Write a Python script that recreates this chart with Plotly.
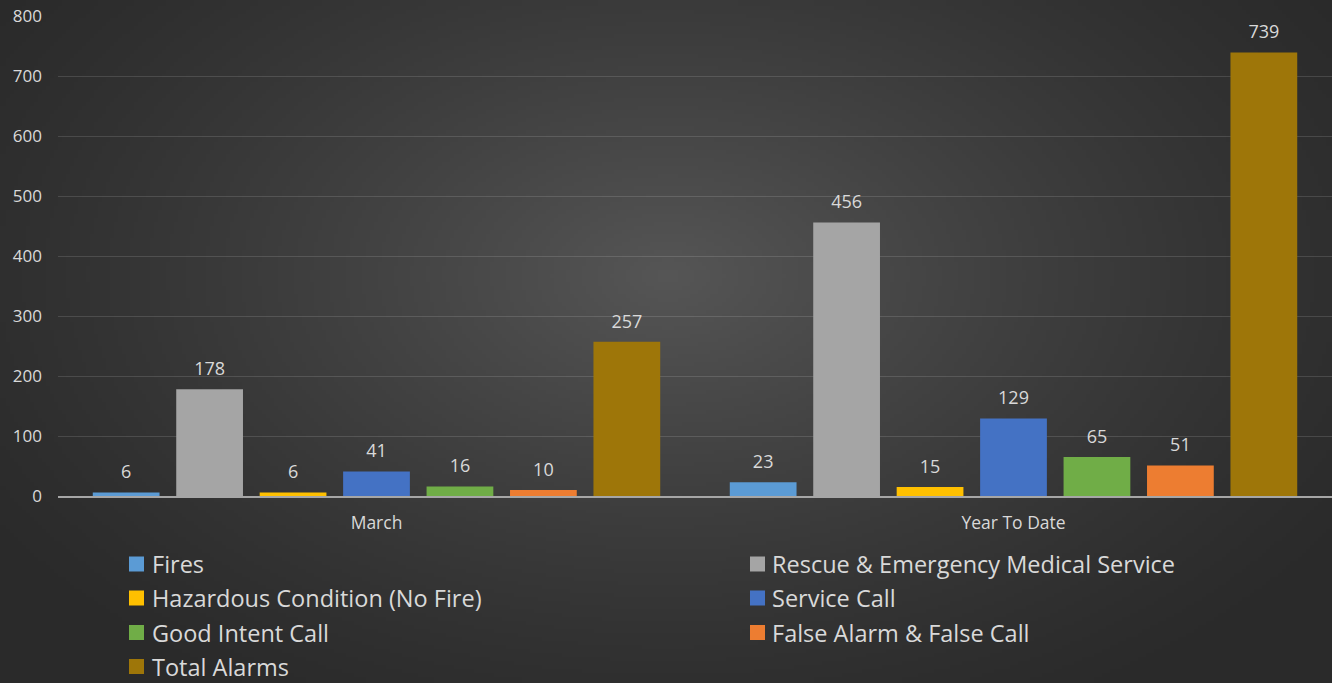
import base64, struct, zlib
import numpy as np
import plotly.graph_objects as go

categories = ["March", "Year To Date"]
series_names = ["Fires", "Rescue & Emergency Medical Service", "Hazardous Condition (No Fire)",
                "Service Call", "Good Intent Call", "False Alarm & False Call", "Total Alarms"]
fires = [6, 23]
rescue_ems = [178, 456]
hazardous = [6, 15]
service_call = [41, 129]
good_intent = [16, 65]
false_alarm = [10, 51]
total_alarms = [257, 739]
series_values = [fires, rescue_ems, hazardous, service_call, good_intent, false_alarm, total_alarms]
series_colors = ["#5B9BD5", "#A5A5A5", "#FFC000", "#4472C4", "#70AD47", "#ED7D31", "#9E7609"]
y_ticks = [0, 100, 200, 300, 400, 500, 600, 700, 800]

FONT = "Open Sans"
TEXT_COLOR = "#D9D9D9"
LABEL_PAD = 10.5  # gap (in axis units) between bar top and its value label

W, H = 1332, 683
ML, MR, MT, MB = 58, 0, 16, 187
PW, PH = W - ML - MR, H - MT - MB


def px_x(px):
    return (px - ML) / PW


def px_y(py):
    return (H - MB - py) / PH


def gradient_png(w, h):
    yy, xx = np.mgrid[0:h, 0:w].astype(float)
    cx, cy = 0.50 * w, 0.40 * h
    r = np.sqrt(((xx - cx) / (0.62 * w)) ** 2 + ((yy - cy) / (0.75 * h)) ** 2)
    v = 42 + 44 * np.clip(1 - r, 0, 1) ** 1.3
    img = np.clip(v, 0, 255).astype(np.uint8)
    raw = b"".join(b"\x00" + np.repeat(row[:, None], 3, axis=1).tobytes() for row in img)

    def chunk(t, d):
        c = struct.pack(">I", len(d)) + t + d
        return c + struct.pack(">I", zlib.crc32(t + d) & 0xFFFFFFFF)

    png = b"\x89PNG\r\n\x1a\n" + chunk(b"IHDR", struct.pack(">IIBBBBB", w, h, 8, 2, 0, 0, 0))
    png += chunk(b"IDAT", zlib.compress(raw, 9)) + chunk(b"IEND", b"")
    return "data:image/png;base64," + base64.b64encode(png).decode()


fig = go.Figure()
for i, (name, vals, col) in enumerate(zip(series_names, series_values, series_colors)):
    fig.add_trace(go.Bar(
        x=categories, y=vals, name=name, offsetgroup=str(i),
        marker=dict(color=col, line=dict(width=0)), showlegend=False,
    ))
for i, vals in enumerate(series_values):
    # transparent spacer bars sitting on top of each bar, carrying the value labels
    fig.add_trace(go.Bar(
        x=categories, y=[LABEL_PAD] * len(vals), base=vals, offsetgroup=str(i),
        marker=dict(color="rgba(0,0,0,0)", line=dict(width=0)),
        text=vals, textposition="outside", cliponaxis=False,
        textfont=dict(family=FONT, size=18, color=TEXT_COLOR),
        showlegend=False, hoverinfo="skip",
    ))

# legend (two columns, Excel style)
shapes, annotations = [], []
col_sq_x = [129, 750]
col_tx_x = [152, 772]
row_y = [564, 598, 632.5, 666.5]
SQ = 15
for k, (name, col) in enumerate(zip(series_names, series_colors)):
    c, r = k % 2, k // 2
    cy = row_y[r]
    shapes.append(dict(
        type="rect", xref="paper", yref="paper",
        x0=px_x(col_sq_x[c]), x1=px_x(col_sq_x[c] + SQ),
        y0=px_y(cy + SQ / 2), y1=px_y(cy - SQ / 2),
        fillcolor=col, line=dict(width=0), layer="above",
    ))
    annotations.append(dict(
        text=name, xref="paper", yref="paper", x=px_x(col_tx_x[c]), y=px_y(cy),
        xanchor="left", yanchor="middle", showarrow=False,
        borderpad=0, borderwidth=0,
        font=dict(family=FONT, size=23.5, color=TEXT_COLOR),
    ))

fig.update_layout(
    width=W, height=H,
    margin=dict(l=ML, r=MR, t=MT, b=MB),
    paper_bgcolor="#2B2B2B", plot_bgcolor="rgba(0,0,0,0)",
    barmode="group", bargap=0.083, bargroupgap=0.2,
    font=dict(family=FONT, color=TEXT_COLOR),
    showlegend=False,
    xaxis=dict(
        showgrid=False, showline=True, linecolor="#A6A6A6", linewidth=2,
        tickfont=dict(family=FONT, size=17.5, color=TEXT_COLOR), ticks="",
        ticklabelstandoff=10,
    ),
    yaxis=dict(
        range=[0, 800], tickvals=y_ticks, showgrid=True, gridcolor="rgba(255,255,255,0.13)",
        gridwidth=1, zeroline=False, showline=False, ticks="",
        tickfont=dict(family=FONT, size=17, color=TEXT_COLOR),
        ticklabelstandoff=15,
    ),
    shapes=shapes,
    annotations=annotations,
    images=[dict(
        source=gradient_png(333, 171), xref="paper", yref="paper",
        x=-ML / PW, y=1 + MT / PH, sizex=W / PW, sizey=H / PH,
        xanchor="left", yanchor="top", sizing="stretch", layer="below",
    )],
)

fig.write_html(
    "out.html",
    config={"displayModeBar": False},
    post_script="document.body.style.margin='0';document.body.style.overflow='hidden';",
)
